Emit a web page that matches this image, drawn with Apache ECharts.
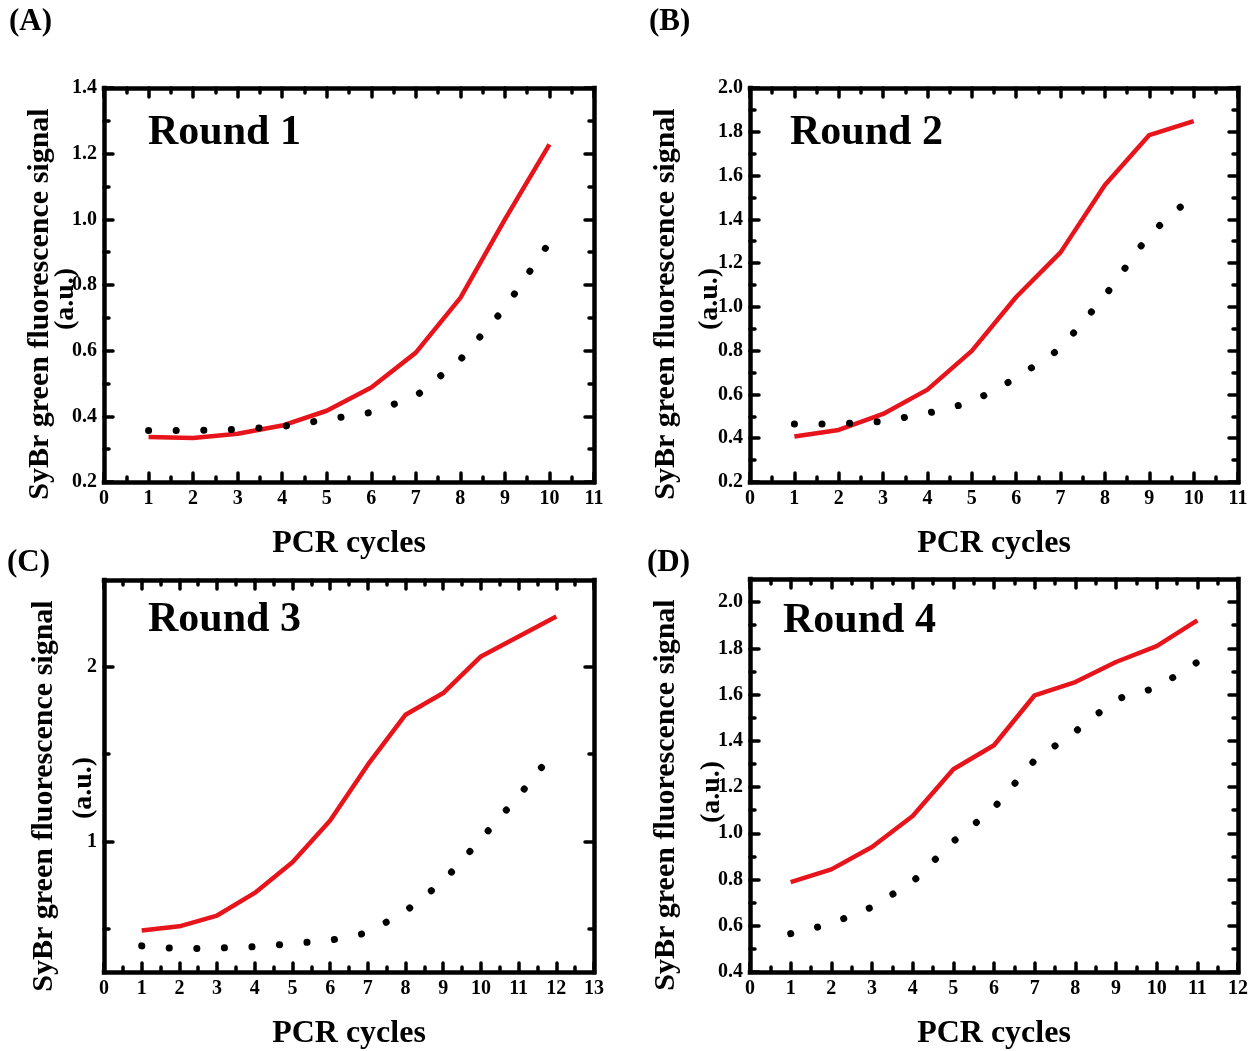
<!DOCTYPE html>
<html><head><meta charset="utf-8">
<script src="https://cdn.jsdelivr.net/npm/echarts@6/dist/echarts.min.js"></script>
<style>html,body{margin:0;padding:0;background:#fff}#c{width:1252px;height:1051px}</style>
</head><body><div id="c"></div>
<script>
// ---------- data ----------
const cyclesA = [1,2,3,4,5,6,7,8,9,10];
const redA    = [0.337,0.334,0.347,0.372,0.417,0.488,0.594,0.761,1.0,1.228];
const blackA  = [0.357,0.357,0.360,0.369,0.390,0.412,0.461,0.573,0.730,0.930];

const cyclesB = [1,2,3,4,5,6,7,8,9,10];
const redB    = [0.408,0.438,0.511,0.622,0.799,1.045,1.249,1.557,1.785,1.849];
const blackB  = [0.465,0.465,0.477,0.514,0.565,0.675,0.810,1.050,1.330,1.510];

const cyclesC = [1,2,3,4,5,6,7,8,9,10,11,12];
const redC    = [0.488,0.512,0.574,0.704,0.880,1.119,1.440,1.727,1.851,2.061,2.176,2.290];
const blackC  = [0.400,0.383,0.387,0.395,0.413,0.432,0.475,0.599,0.770,1.013,1.260,1.530];

const cyclesD = [1,2,3,4,5,6,7,8,9,10,11];
const redD    = [0.789,0.844,0.941,1.075,1.277,1.381,1.597,1.654,1.741,1.810,1.921];
const blackD  = [0.566,0.609,0.681,0.790,0.965,1.110,1.316,1.440,1.580,1.630,1.740];

// tick labels / tick positions
const xTicksA = [0,1,2,3,4,5,6,7,8,9,10,11];
const xTicksB = [0,1,2,3,4,5,6,7,8,9,10,11];
const xTicksC = [0,1,2,3,4,5,6,7,8,9,10,11,12,13];
const xTicksD = [0,1,2,3,4,5,6,7,8,9,10,11,12];
const yTicksA = [0.2,0.4,0.6,0.8,1.0,1.2,1.4];
const yMinorA = [0.3,0.5,0.7,0.9,1.1,1.3];
const yTicksB = [0.2,0.4,0.6,0.8,1.0,1.2,1.4,1.6,1.8,2.0];
const yMinorB = [0.3,0.5,0.7,0.9,1.1,1.3,1.5,1.7,1.9];
const yTicksC = [1,2];
const yMinorC = [0.5,1.5];
const yTicksD = [0.4,0.6,0.8,1.0,1.2,1.4,1.6,1.8,2.0];
const yMinorD = [0.5,0.7,0.9,1.1,1.3,1.5,1.7,1.9];

const panelLabels = ['(A)','(B)','(C)','(D)'];
const roundTitles = ['Round 1','Round 2','Round 3','Round 4'];
const xTitle = 'PCR cycles';
const yTitle1 = 'SyBr green fluorescence signal';
const yTitle2 = '(a.u.)';

// ---------- layout ----------
const FONT = '"Liberation Serif","Times New Roman",serif';
const panels = [
  {grid:{left:104,top:88,width:490,height:394}, x:cyclesA, red:redA, black:blackA, xr:[0,11], yr:[0.2,1.4], xt:xTicksA, yt:yTicksA, ym:yMinorA, dec:1,
   lab:[9,22], rnd:[148,133], t1:[40,304], t2:[66,299]},
  {grid:{left:750,top:88,width:488,height:394}, x:cyclesB, red:redB, black:blackB, xr:[0,11], yr:[0.2,2.0], xt:xTicksB, yt:yTicksB, ym:yMinorB, dec:1,
   lab:[649,22], rnd:[790,133], t1:[666,304], t2:[710,299]},
  {grid:{left:104,top:580,width:490,height:392}, x:cyclesC, red:redC, black:blackC, xr:[0,13], yr:[0.25,2.5], xt:xTicksC, yt:yTicksC, ym:yMinorC, dec:0,
   lab:[7,563], rnd:[148,620], t1:[44,796], t2:[84,788]},
  {grid:{left:750,top:579,width:488,height:393}, x:cyclesD, red:redD, black:blackD, xr:[0,12], yr:[0.4,2.1], xt:xTicksD, yt:yTicksD, ym:yMinorD, dec:1,
   lab:[647,563], rnd:[783,621], t1:[666,795], t2:[712,792]}
];

const grids = [], xAxes = [], yAxes = [], series = [], graphics = [];
const lineStyle = {color:'#000', width:4.5, cap:'square'};
const majorTick = (vals)=>({show:true, inside:true, length:9, customValues:vals, lineStyle:{color:'#000', width:3.5, cap:'round'}});
const minorTickS = (vals)=>({show:true, inside:true, length:5, customValues:vals, lineStyle:{color:'#000', width:3.5, cap:'round'}});
const labelStyle = {color:'#000', fontFamily:FONT, fontWeight:'bold', fontSize:20};

panels.forEach((p, i) => {
  grids.push(Object.assign({show:false, containLabel:false}, p.grid));
  const xMinor = [];
  for (let v = p.xr[0] + 0.5; v < p.xr[1]; v += 1) xMinor.push(v);
  const xBase = {type:'value', gridIndex:i, min:p.xr[0], max:p.xr[1], splitLine:{show:false}};
  const yBase = {type:'value', gridIndex:i, min:p.yr[0], max:p.yr[1], splitLine:{show:false}};
  const xi = xAxes.length;
  xAxes.push(Object.assign({}, xBase, {position:'bottom', axisLine:{show:true, onZero:false, lineStyle},
    axisTick:majorTick(p.xt), axisLabel:Object.assign({show:true, margin:7, customValues:p.xt, formatter:(v)=>String(Math.round(v))}, labelStyle),
    name:xTitle, nameLocation:'middle', nameGap:46, nameTextStyle:{color:'#000', fontFamily:FONT, fontWeight:'bold', fontSize:32}}));
  xAxes.push(Object.assign({}, xBase, {position:'bottom', axisLine:{show:false, onZero:false}, axisTick:minorTickS(xMinor), axisLabel:{show:false}}));
  xAxes.push(Object.assign({}, xBase, {position:'top', axisLine:{show:true, onZero:false, lineStyle}, axisTick:majorTick(p.xt), axisLabel:{show:false}}));
  xAxes.push(Object.assign({}, xBase, {position:'top', axisLine:{show:false, onZero:false}, axisTick:minorTickS(xMinor), axisLabel:{show:false}}));
  const yi = yAxes.length;
  yAxes.push(Object.assign({}, yBase, {position:'left', axisLine:{show:true, onZero:false, lineStyle},
    axisTick:majorTick(p.yt), axisLabel:Object.assign({show:true, margin:7, customValues:p.yt, formatter:(v)=>v.toFixed(p.dec)}, labelStyle)}));
  yAxes.push(Object.assign({}, yBase, {position:'left', axisLine:{show:false, onZero:false}, axisTick:minorTickS(p.ym), axisLabel:{show:false}}));
  yAxes.push(Object.assign({}, yBase, {position:'right', axisLine:{show:true, onZero:false, lineStyle}, axisTick:majorTick(p.yt), axisLabel:{show:false}}));
  yAxes.push(Object.assign({}, yBase, {position:'right', axisLine:{show:false, onZero:false}, axisTick:minorTickS(p.ym), axisLabel:{show:false}}));

  series.push({type:'line', xAxisIndex:xi, yAxisIndex:yi, data:p.x.map((c,k)=>[c,p.red[k]]), symbol:'none', silent:true,
    lineStyle:{color:'#e8141b', width:4.5, join:'round'}, z:3});
  series.push({type:'line', xAxisIndex:xi, yAxisIndex:yi, data:p.x.map((c,k)=>[c,p.black[k]]), symbol:'none', silent:true,
    lineStyle:{color:'#000', width:7, type:[0.1,27.5], cap:'round'}, z:4});

  graphics.push({type:'text', x:p.lab[0], y:p.lab[1], style:{text:panelLabels[i], fill:'#000', font:'bold 31px '+FONT, textAlign:'left', textVerticalAlign:'middle'}});
  graphics.push({type:'text', x:p.rnd[0], y:p.rnd[1], style:{text:roundTitles[i], fill:'#000', font:'bold 42px '+FONT, textAlign:'left', textVerticalAlign:'middle'}});
  graphics.push({type:'text', x:p.t1[0], y:p.t1[1], rotation:Math.PI/2, style:{text:yTitle1, fill:'#000', font:'bold 30px '+FONT, textAlign:'center', textVerticalAlign:'middle'}});
  graphics.push({type:'text', x:p.t2[0], y:p.t2[1], rotation:Math.PI/2, style:{text:yTitle2, fill:'#000', font:'bold 28px '+FONT, textAlign:'center', textVerticalAlign:'middle'}});
});

const chart = echarts.init(document.getElementById('c'), null, {renderer:'canvas'});
chart.setOption({
  backgroundColor:'#fff',
  animation:false,
  grid:grids, xAxis:xAxes, yAxis:yAxes, series:series, graphic:graphics
});
</script></body></html>
